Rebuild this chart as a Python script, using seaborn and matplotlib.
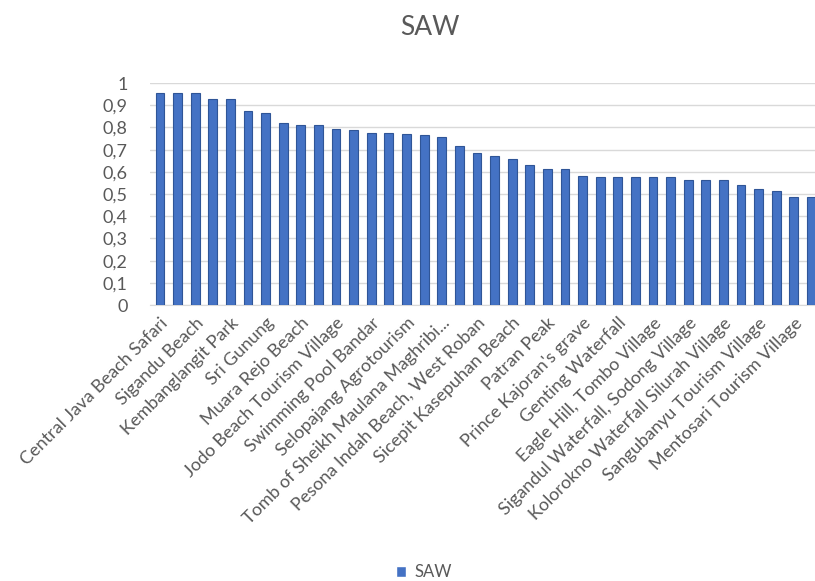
import numpy as np
import pandas as pd
import matplotlib
matplotlib.use("Agg")
import matplotlib.pyplot as plt
import matplotlib.ticker as mticker
from matplotlib.patches import Patch
import seaborn as sns

# SAW score per destination, sorted (labels only on every other bar, as in the source)
labels = ["Central Java Beach Safari", "Sigandu Beach", "Kembanglangit Park",
          "Sri Gunung", "Muara Rejo Beach", "Jodo Beach Tourism Village",
          "Swimming Pool Bandar", "Selopajang Agrotourism",
          "Tomb of Sheikh Maulana Maghribi...", "Pesona Indah Beach, West Roban",
          "Sicepit Kasepuhan Beach", "Patran Peak", "Prince Kajoran's grave",
          "Genting Waterfall", "Eagle Hill, Tombo Village",
          "Sigandul Waterfall, Sodong Village", "Kolorokno Waterfall Silurah Village",
          "Sangubanyu Tourism Village", "Mentosari Tourism Village"]
values = [0.955, 0.955, 0.955, 0.93, 0.93, 0.875, 0.865, 0.82, 0.81, 0.81,
          0.795, 0.79, 0.775, 0.775, 0.77, 0.765, 0.755, 0.715, 0.685, 0.67,
          0.66, 0.63, 0.615, 0.615, 0.58, 0.578, 0.575, 0.575, 0.575, 0.575,
          0.565, 0.565, 0.565, 0.54, 0.525, 0.515, 0.485, 0.485]
yticks = [0, 0.1, 0.2, 0.3, 0.4, 0.5, 0.6, 0.7, 0.8, 0.9, 1]

df = pd.DataFrame({"pos": np.arange(len(values)), "SAW": values})

sns.set_style("white")
plt.rcParams["font.family"] = ["Lato", "DejaVu Sans"]

fig = plt.figure(figsize=(8.15, 5.81), dpi=100)
ax = fig.add_axes([0.184, 0.475, 0.816, 0.382])

sns.barplot(data=df, x="pos", y="SAW", color="#4472C4", width=0.5,
            edgecolor="#2F5597", linewidth=0.8, saturation=1, ax=ax, zorder=3)

ax.set_ylim(0, 1)
# the source picture is cropped: the last bar runs into the right edge
ax.set_xlim(-0.57, 37.2)
ax.set_yticks(yticks)
ax.yaxis.set_major_formatter(mticker.FuncFormatter(
    lambda v, p: "0" if v == 0 else ("1" if v == 1 else f"{v:.1f}".replace(".", ","))))
ax.grid(axis="y", color="#D9D9D9", linewidth=1, zorder=0)
ax.set_xticks(range(0, len(values), 2))
ax.set_xticklabels(labels, rotation=45, ha="right", rotation_mode="anchor",
                   fontsize=13, color="#595959")
ax.tick_params(axis="y", labelsize=13, labelcolor="#595959", length=0, pad=16)
ax.tick_params(axis="x", length=0, pad=7)
ax.set_xlabel("")
ax.set_ylabel("")
for s in ["top", "right", "left"]:
    ax.spines[s].set_visible(False)
ax.spines["bottom"].set_color("#D9D9D9")

fig.text(0.527, 0.952, "SAW", ha="center", va="center", fontsize=19, color="#595959")
fig.legend(handles=[Patch(facecolor="#4472C4", label="SAW")], loc="center",
           bbox_to_anchor=(0.52, 0.015), frameon=False, fontsize=12,
           handlelength=0.6, handleheight=0.6, handletextpad=0.5,
           labelcolor="#595959")

fig.savefig("out.png", dpi=100)
